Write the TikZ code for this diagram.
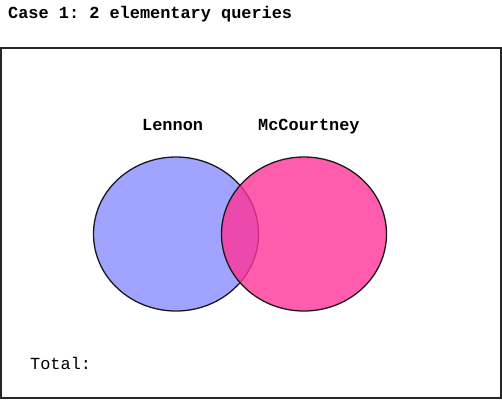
\documentclass[tikz,border=0pt]{standalone}
\usepackage{fontspec}
\setmonofont{Liberation Mono}
\usetikzlibrary{positioning,shapes.geometric}
\definecolor{lennonblue}{HTML}{A0A3FF}
\definecolor{mccpink}{HTML}{FF3399}
\tikzset{
  caption/.style={anchor=base west, inner sep=0pt,
    font=\fontsize{16.9pt}{18pt}\selectfont\ttfamily#1},
  caption/.default=\bfseries,
  setshape/.style={ellipse, draw=black!90, line width=1.3pt,
    minimum width=165pt, minimum height=154pt, inner sep=0pt},
  framebox/.style={draw=black!85, line width=1.5pt},
}
\begin{document}
\begin{tikzpicture}[x=1pt, y=-1pt]
  \useasboundingbox (0,0) rectangle (502,400);
  \node[caption] (title) at (8,18) {Case 1: 2 elementary queries};
  \draw[framebox] (1,48) rectangle (501,398);
  % sets
  \node[setshape, fill=lennonblue] (lennon) at (176,234) {};
  \node[setshape, fill=mccpink, fill opacity=0.8] (mcc) at (304,234) {};
  \node[caption] (lennonlbl) at (142,130) {Lennon};
  \node[caption] (mcclbl) at (258,130) {McCourtney};
  \node[caption=\mdseries] (total) at (30,369) {Total:};
\end{tikzpicture}
\end{document}
